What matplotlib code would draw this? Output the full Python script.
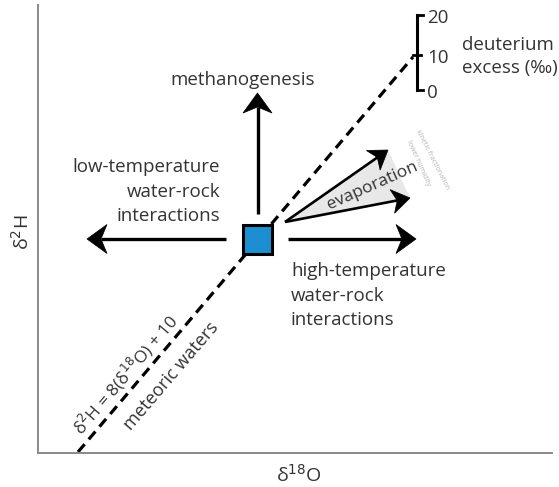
import numpy as np
import matplotlib.pyplot as plt
from matplotlib.patches import Rectangle, Polygon

plt.rcParams['font.family'] = ['Open Sans', 'DejaVu Sans']

# diagram positions (pixel-like units, y grows downward)
start = (257.5, 239)          # sample box centre
box_size = 29
meteoric_x = [78, 413]
meteoric_y = [452, 57]
excess_ticks = [20, 10, 0]
excess_y = [15, 55, 90]
excess_x = 417

# (tail, head) of each process arrow
arrows = {
    'methanogenesis': ((257.5, 214), (257.5, 93)),
    'low': ((226, 239), (87, 239)),
    'high': ((288, 239), (416, 239)),
}
evap_arrows = {
    'upper': ((285, 222), (388, 150)),
    'lower': ((285, 222), (410, 198)),
}

text_col = '#333333'


def draw_arrow(ax, tail, head, lw, head_len, head_w, notch):
    tail = np.array(tail, float)
    head = np.array(head, float)
    d = (head - tail) / np.linalg.norm(head - tail)
    n = np.array([-d[1], d[0]])
    back = head - d * head_len
    inner = head - d * (head_len - notch)
    ax.plot([tail[0], inner[0]], [tail[1], inner[1]], color='k', lw=lw,
            solid_capstyle='butt', zorder=3)
    ax.add_patch(Polygon([head, back + n * head_w / 2, inner, back - n * head_w / 2],
                         closed=True, fc='k', ec='k', lw=0.5, zorder=3))


fig = plt.figure(figsize=(5.59, 4.87), dpi=100)
ax = fig.add_axes([38 / 559, (487 - 453) / 487, (552 - 38) / 559, (453 - 5) / 487])
ax.set_xlim(38, 552)
ax.set_ylim(453, 5)
for s in ['top', 'right']:
    ax.spines[s].set_visible(False)
for s in ['left', 'bottom']:
    ax.spines[s].set_color('#8a8a8a')
    ax.spines[s].set_linewidth(1.4)
ax.set_xticks([])
ax.set_yticks([])
ax.text(299, 475, 'δ$^{18}$O', fontsize=14, color=text_col, ha='center', va='center',
        clip_on=False)
ax.text(22, 232, 'δ$^{2}$H', fontsize=14, color=text_col, ha='center', va='center',
        rotation=90, clip_on=False)

# meteoric water line
ax.plot(meteoric_x, meteoric_y, color='k', lw=2.3, ls=(0, (3.2, 2.0)), zorder=2)

# evaporation wedge
ev_t, ev_u = evap_arrows['upper']
_, ev_l = evap_arrows['lower']
ax.add_patch(Polygon([ev_t, ev_u, ev_l], closed=True, fc='#e8e8e8', ec='none', zorder=1))

for tail, head in arrows.values():
    draw_arrow(ax, tail, head, lw=2.4, head_len=20, head_w=29, notch=6)
for tail, head in evap_arrows.values():
    draw_arrow(ax, tail, head, lw=1.9, head_len=18, head_w=24, notch=5)

# sample box
ax.add_patch(Rectangle((start[0] - box_size / 2, start[1] - box_size / 2), box_size, box_size,
                       fc='#1b8fd2', ec='k', lw=2.2, zorder=5))

# deuterium excess scale
ax.plot([excess_x, excess_x], [excess_y[0], excess_y[-1]], color='k', lw=2.2, zorder=3)
ax.plot([excess_x, excess_x + 6], [excess_y[0], excess_y[0]], color='k', lw=2, zorder=3)
ax.plot([excess_x, excess_x + 6], [excess_y[-1], excess_y[-1]], color='k', lw=2, zorder=3)
ax.plot([excess_x - 4, excess_x + 4], [excess_y[1], excess_y[1]], color='k', lw=2, zorder=3)
for v, y in zip(excess_ticks, excess_y):
    ax.text(excess_x + 10, y + 3, str(v), fontsize=13.5, color=text_col, va='center', ha='left')
ax.text(462, 45, 'deuterium', fontsize=13.5, color=text_col, va='center', ha='left')
ax.text(462, 68, 'excess (‰)', fontsize=13.5, color=text_col, va='center', ha='left')

# process labels
ax.text(243, 80, 'methanogenesis', fontsize=13.5, color=text_col, ha='center', va='center')
for i, line in enumerate(['low-temperature', 'water-rock', 'interactions']):
    ax.text(220, 167 + 24.5 * i, line, fontsize=13.5, color=text_col, ha='right', va='center')
for i, line in enumerate(['high-temperature', 'water-rock', 'interactions']):
    ax.text(291, 271 + 24.5 * i, line, fontsize=13.5, color=text_col, ha='left', va='center')
ax.text(372, 186, 'evaporation', fontsize=12.5, color=text_col, ha='center', va='center',
        rotation=24, rotation_mode='anchor')
ax.text(432, 160, 'kinetic fractionation', fontsize=5, color='#b4b4b4', ha='center',
        va='center', rotation=-63, rotation_mode='anchor')
ax.text(418, 163, 'lower humidity', fontsize=5, color='#b4b4b4', ha='center',
        va='center', rotation=-66, rotation_mode='anchor')

# equation along the meteoric line
ax.text(126, 374, 'δ$^{2}$H = 8(δ$^{18}$O) + 10', fontsize=12.5, color=text_col, ha='center',
        va='center', rotation=49.5, rotation_mode='anchor')
ax.text(171, 376, 'meteoric waters', fontsize=13, color=text_col, ha='center', va='center',
        rotation=49.5, rotation_mode='anchor')

fig.savefig('out.png', dpi=100)
